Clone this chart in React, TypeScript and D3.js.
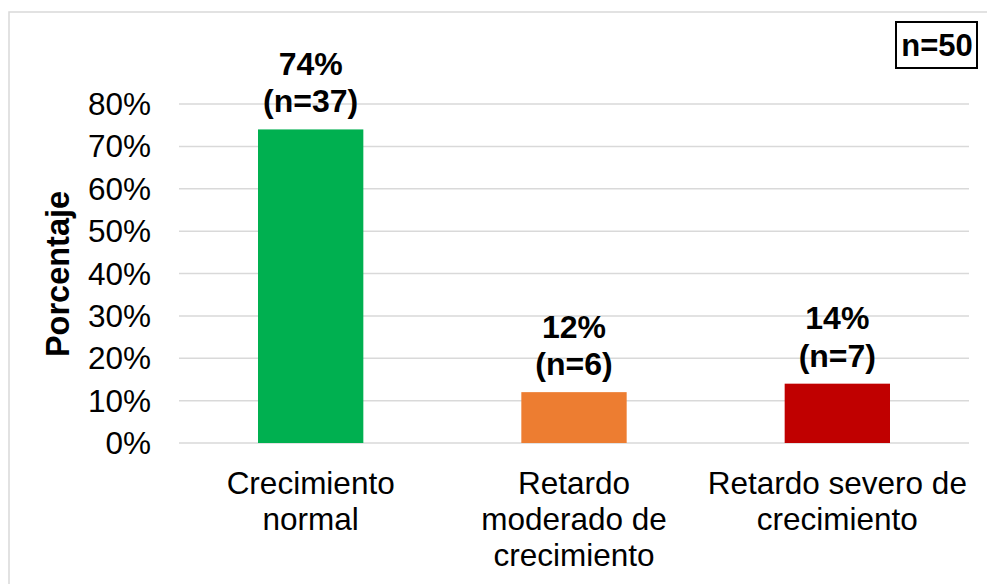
import React from "react";
import * as d3 from "d3";

const categories: string[][] = [
  ["Crecimiento", "normal"],
  ["Retardo", "moderado de", "crecimiento"],
  ["Retardo severo de", "crecimiento"],
];
const percents = [74, 12, 14];
const counts = [37, 6, 7];
const colors = ["#00b050", "#ed7d31", "#c00000"];
const yTicks = [0, 10, 20, 30, 40, 50, 60, 70, 80];
const totalLabel = "n=50";
const yTitle = "Porcentaje";

const W = 987;
const H = 584;
const FONT = "Arial, 'Liberation Sans', Helvetica, sans-serif";

export default function App() {
  const x = d3
    .scaleBand<number>()
    .domain(d3.range(categories.length))
    .range([179, 969])
    .paddingInner(0.6)
    .paddingOuter(0.3);
  const y = d3.scaleLinear().domain([0, 80]).range([443, 104]);

  return (
    <svg
      width={W}
      height={H}
      style={{ position: "absolute", left: 0, top: 0, background: "#fff" }}
      fontFamily={FONT}
    >
      <rect x={9} y={12} width={W} height={H} fill="#fff" stroke="#d9d9d9" strokeWidth={1.5} />
      {yTicks.map((t) => (
        <g key={t}>
          <line x1={179} x2={969} y1={y(t)} y2={y(t)} stroke="#d9d9d9" strokeWidth={1.5} />
          <text x={151} y={y(t) + 11} textAnchor="end" fontSize={31.5} fill="#000">
            {t}%
          </text>
        </g>
      ))}
      {percents.map((p, i) => {
        const bx = x(i)!;
        const cx = bx + x.bandwidth() / 2;
        const top = y(p);
        return (
          <g key={i}>
            <rect x={bx} y={top} width={x.bandwidth()} height={y(0) - top} fill={colors[i]} />
            <text x={cx} y={top - 54.5} textAnchor="middle" fontSize={32} fontWeight="bold">
              {p}%
            </text>
            <text x={cx} y={top - 17} textAnchor="middle" fontSize={32} fontWeight="bold">
              (n={counts[i]})
            </text>
            {categories[i].map((line, j) => (
              <text key={j} x={cx} y={494 + j * 36} textAnchor="middle" fontSize={31.5}>
                {line}
              </text>
            ))}
          </g>
        );
      })}
      <text
        transform={`translate(69, 274) rotate(-90)`}
        textAnchor="middle"
        fontSize={32.5}
        fontWeight="bold"
      >
        {yTitle}
      </text>
      <rect x={896} y={22} width={81} height={46} fill="#fff" stroke="#000" strokeWidth={2} />
      <text x={937} y={56} textAnchor="middle" fontSize={31} fontWeight="bold">
        {totalLabel}
      </text>
    </svg>
  );
}
